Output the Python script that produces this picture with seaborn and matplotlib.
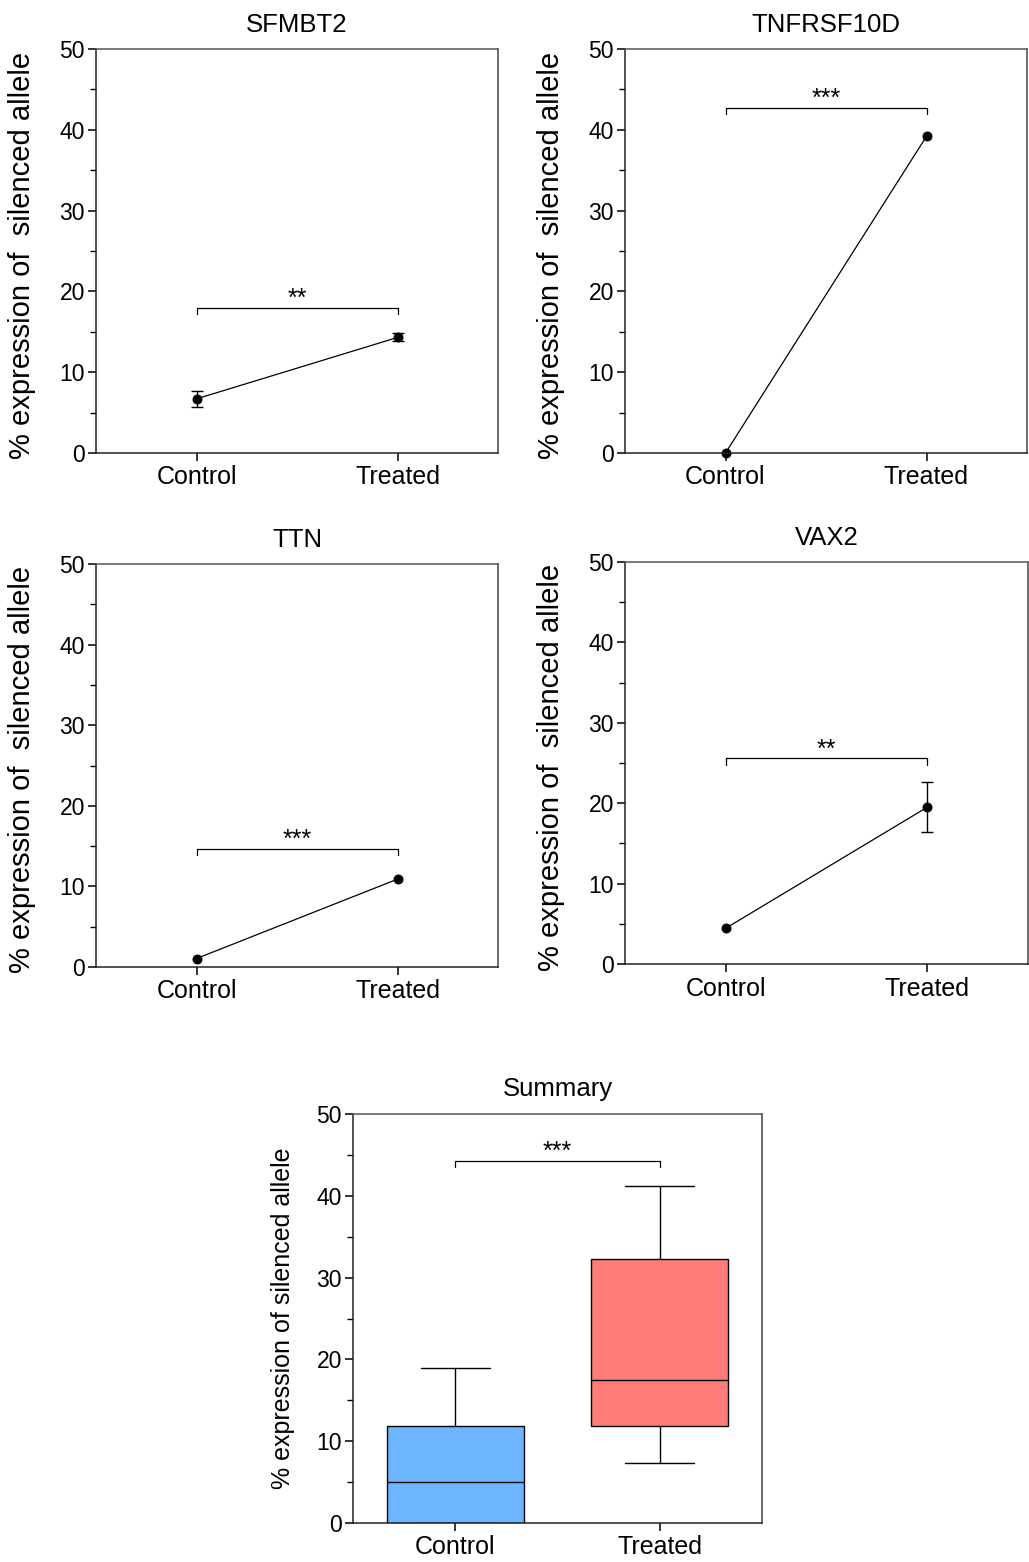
import numpy as np
import pandas as pd
import seaborn as sns
import matplotlib.pyplot as plt
from matplotlib.ticker import MultipleLocator

groups = ["Control", "Treated"]

# per-gene mean and SEM of % expression of the silenced allele
genes = ["SFMBT2", "TNFRSF10D", "TTN", "VAX2"]
gene_means = [[6.7, 14.3], [0.0, 39.2], [1.05, 10.9], [4.45, 19.5]]
gene_sems = [[1.0, 0.5], [0.0, 0.0], [0.0, 0.0], [0.0, 3.1]]
gene_stars = ["**", "***", "***", "**"]
gene_bracket_y = [18.0, 42.7, 14.7, 25.6]

# summary box plot: min, Q1, median, Q3, max
summary_control = [0.0, 0.0, 5.0, 11.9, 18.9]
summary_treated = [7.35, 11.9, 17.5, 32.3, 41.2]
summary_stars = "***"
summary_bracket_y = 44.3
box_colors = ["#6db6ff", "#ff7c78"]

sns.set_style("ticks")
plt.rcParams["font.family"] = ["Liberation Sans", "DejaVu Sans"]
plt.rcParams["axes.linewidth"] = 1.1
for k in ["text.color", "axes.labelcolor", "xtick.color", "ytick.color"]:
    plt.rcParams[k] = "black"

W, H = 1029, 1562
fig = plt.figure(figsize=(W / 100, H / 100), dpi=100)


def px_axes(left, top, right, bottom):
    return fig.add_axes([left / W, 1 - bottom / H, (right - left) / W, (bottom - top) / H])


def style_axes(ax, ylabel, dotted_top=True):
    ax.set_ylim(0, 50)
    ax.set_xlim(-0.5, 1.5)
    ax.yaxis.set_major_locator(MultipleLocator(10))
    ax.yaxis.set_minor_locator(MultipleLocator(5))
    ax.tick_params(axis="y", which="major", length=6, width=1.1, labelsize=16.5, pad=2)
    ax.tick_params(axis="y", which="minor", length=4, width=1.0)
    ax.tick_params(axis="x", length=6, width=1.1, labelsize=18, pad=3)
    for s in ["left", "bottom"]:
        ax.spines[s].set_color("#222222")
    ax.spines["right"].set_color("#444444")
    ax.spines["top"].set_color("#555555")
    if dotted_top:
        ax.spines["top"].set_linestyle((0, (1, 1)))
    ax.set_xlabel("")
    ax.set_ylabel(ylabel, fontsize=21)


def bracket(ax, y, stars, drop=0.8, fs=18):
    ax.plot([0, 0, 1, 1], [y - drop, y, y, y - drop], color="black", lw=0.9)
    ax.text(0.5, y - 0.4, stars, ha="center", va="bottom", fontsize=fs)


boxes = [(96, 49, 498, 453), (625, 49, 1027, 453),
         (96, 564, 498, 967), (625, 562, 1028, 964)]

for gene, means, sems, stars, by, box in zip(genes, gene_means, gene_sems,
                                             gene_stars, gene_bracket_y, boxes):
    ax = px_axes(*box)
    df = pd.DataFrame({"group": groups, "value": means})
    sns.pointplot(data=df, x="group", y="value", color="black", errorbar=None,
                  markers="o", markersize=6.5, linewidth=0.9, ax=ax)
    for i, (m, s) in enumerate(zip(means, sems)):
        if s > 0:
            ax.errorbar(i, m, yerr=s, fmt="none", ecolor="black", elinewidth=1.0,
                        capsize=4, capthick=1.0)
    for ln in ax.lines:
        ln.set_clip_on(False)
    bracket(ax, by, stars)
    style_axes(ax, "% expression of  silenced allele")
    ax.yaxis.set_label_coords(-0.15, 0.49)
    ax.set_title(gene, fontsize=18.5, pad=12)

# summary box plot
ax5 = px_axes(353, 1114, 762, 1523)
sdf = pd.DataFrame({
    "group": ["Control"] * len(summary_control) + ["Treated"] * len(summary_treated),
    "value": summary_control + summary_treated,
})
sns.boxplot(data=sdf, x="group", y="value", hue="group", palette=box_colors,
            saturation=1, width=0.67, whis=(0, 100), linecolor="black",
            linewidth=1.0, legend=False, ax=ax5)
bracket(ax5, summary_bracket_y, summary_stars)
style_axes(ax5, "% expression of silenced allele", dotted_top=False)
ax5.yaxis.label.set_fontsize(18)
ax5.yaxis.set_label_coords(-0.142, 0.5)
ax5.set_title("Summary", fontsize=18.5, pad=13)

fig.savefig("out.png", dpi=100)
